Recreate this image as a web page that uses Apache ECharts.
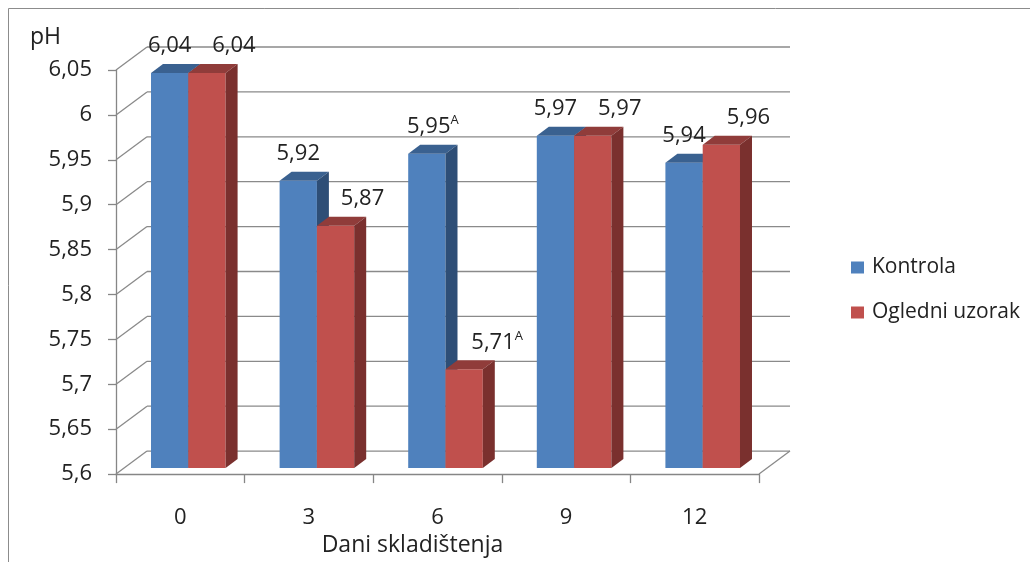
<!DOCTYPE html>
<html>
<head>
<meta charset="utf-8">
<title>pH</title>
<script src="https://cdn.jsdelivr.net/npm/echarts@6/dist/echarts.min.js"></script>
<style>
  html, body { margin: 0; padding: 0; background: #fff; }
  #chart { width: 1030px; height: 562px; }
</style>
</head>
<body>
<div id="chart"></div>
<script>
// podaci
var days = ['0', '3', '6', '9', '12'];
var kontrola = [6.04, 5.92, 5.95, 5.97, 5.94];
var ogledni = [6.04, 5.87, 5.71, 5.97, 5.96];
var kontrolaMarks = ['', '', 'A', '', ''];
var ogledniMarks = ['', '', 'A', '', ''];
var yTicks = [5.6, 5.65, 5.7, 5.75, 5.8, 5.85, 5.9, 5.95, 6, 6.05];

var yMin = 5.6, yMax = 6.05, yStep = 0.05;
var FONT = '"Open Sans", sans-serif';
var WALL = [31, -23];   // dubina zida
var OFF = [8, -6];      // pomak stupaca od prednje ravnine
var DEPTH = [12, -9];   // dubina stupca

function fmt(v) {
  return String(parseFloat(v.toFixed(2))).replace('.', ',');
}

function renderWall(params, api) {
  var cs = params.coordSys;
  var v = api.value(1);
  var y = api.coord([0, v])[1];
  var x0 = cs.x, x1 = cs.x + cs.width;
  var style = { stroke: '#8a8a8a', lineWidth: 1.3 };
  var kids = [
    { type: 'line', shape: { x1: x0, y1: y, x2: x0 + WALL[0], y2: y + WALL[1] }, style: style },
    { type: 'line', shape: { x1: x0 + WALL[0], y1: y + WALL[1], x2: x1 + WALL[0], y2: y + WALL[1] }, style: style }
  ];
  if (v === yMin) {
    kids.push({ type: 'line', shape: { x1: x1, y1: y, x2: x1 + WALL[0], y2: y + WALL[1] }, style: style });
  }
  return { type: 'group', children: kids };
}

function barRenderer(side, colors, values, marks, shift) {
  return function (params, api) {
    var cat = api.value(0);
    var val = api.value(1);
    var top = api.coord([cat, val]);
    var base = api.coord([cat, yMin]);
    var bw = api.size([1, 0])[0] * 0.29;
    var x0 = top[0] + OFF[0] + (side === 0 ? -bw : 0);
    var y0 = top[1] + OFF[1];
    var yb = base[1] + OFF[1];
    var mark = marks[params.dataIndex];
    var txt = '{v|' + fmt(values[params.dataIndex]) + '}' + (mark ? '{s|' + mark + '}' : '');
    return {
      type: 'group',
      children: [
        { type: 'rect', shape: { x: x0, y: y0, width: bw, height: yb - y0 }, style: { fill: colors[0] } },
        { type: 'polygon', shape: { points: [[x0, y0], [x0 + bw, y0], [x0 + bw + DEPTH[0], y0 + DEPTH[1]], [x0 + DEPTH[0], y0 + DEPTH[1]]] }, style: { fill: colors[1] } },
        { type: 'polygon', shape: { points: [[x0 + bw, y0], [x0 + bw + DEPTH[0], y0 + DEPTH[1]], [x0 + bw + DEPTH[0], yb + DEPTH[1]], [x0 + bw, yb]] }, style: { fill: colors[2] } },
        {
          type: 'text',
          x: x0 + bw / 2 + shift + (mark ? 6 : 0),
          y: y0 - 27,
          style: {
            text: txt,
            align: 'center',
            verticalAlign: 'middle',
            rich: {
              v: { fontFamily: FONT, fontSize: 22, fill: '#222' },
              s: { fontFamily: FONT, fontSize: 13, fill: '#222', padding: [0, 0, 13, 0] }
            }
          }
        }
      ]
    };
  };
}

var chart = echarts.init(document.getElementById('chart'));

var option = {
  backgroundColor: '#fff',
  animation: false,
  textStyle: { fontFamily: FONT },
  title: {
    text: 'pH',
    left: 25,
    top: 21,
    textStyle: { fontFamily: FONT, fontSize: 23, fontWeight: 'normal', color: '#222' }
  },
  graphic: [{
    type: 'rect',
    shape: { x: 8.5, y: 8.5, width: 1200, height: 700 },
    style: { fill: 'none', stroke: '#8c8c8c', lineWidth: 1 },
    silent: true
  }],
  legend: {
    orient: 'vertical',
    left: 846,
    top: 252,
    itemWidth: 13,
    itemHeight: 12,
    itemGap: 24,
    icon: 'rect',
    textStyle: { fontFamily: FONT, fontSize: 21, color: '#222', padding: [0, 0, 0, 3] },
    data: ['Kontrola', 'Ogledni uzorak']
  },
  grid: { left: 116, right: 271, top: 70, bottom: 84 },
  xAxis: {
    type: 'category',
    data: days,
    boundaryGap: true,
    axisLine: { lineStyle: { color: '#868686', width: 1.3 } },
    axisTick: { show: true, length: 9, interval: 0, lineStyle: { color: '#868686', width: 1.3 } },
    axisLabel: { margin: 33, fontFamily: FONT, fontSize: 22, color: '#222' },
    splitLine: { show: false },
    name: 'Dani skladištenja',
    nameLocation: 'middle',
    nameGap: 58,
    nameTextStyle: { fontFamily: FONT, fontSize: 23, color: '#222', padding: [0, 50, 0, 0] }
  },
  yAxis: {
    type: 'value',
    min: yMin,
    max: yMax,
    interval: yStep,
    axisLine: { show: true, lineStyle: { color: '#868686', width: 1.3 } },
    axisTick: { show: true, length: 8, lineStyle: { color: '#868686', width: 1.3 } },
    axisLabel: { margin: 24, fontFamily: FONT, fontSize: 22, color: '#222', formatter: fmt },
    splitLine: { show: false }
  },
  series: [
    {
      name: 'wall',
      type: 'custom',
      z: 1,
      silent: true,
      renderItem: renderWall,
      data: yTicks.map(function (v) { return [0, v]; })
    },
    {
      name: 'Kontrola',
      type: 'custom',
      z: 2,
      itemStyle: { color: '#4F81BD' },
      renderItem: barRenderer(0, ['#4F81BD', '#3A6190', '#2E4E76'], kontrola, kontrolaMarks, 0),
      data: kontrola.map(function (v, i) { return [i, v]; })
    },
    {
      name: 'Ogledni uzorak',
      type: 'custom',
      z: 3,
      itemStyle: { color: '#C0504D' },
      renderItem: barRenderer(1, ['#C0504D', '#903C3A', '#7A302E'], ogledni, ogledniMarks, 27),
      data: ogledni.map(function (v, i) { return [i, v]; })
    }
  ]
};

chart.setOption(option);
</script>
</body>
</html>
